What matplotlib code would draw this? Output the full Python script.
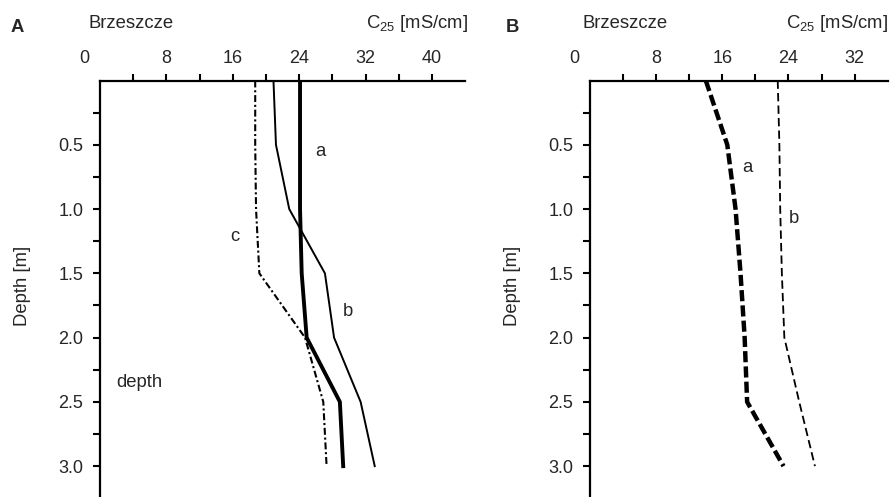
import matplotlib
matplotlib.use("Agg")
import matplotlib.pyplot as plt
import matplotlib.transforms as mtransforms

plt.rcParams['font.family'] = ['Liberation Sans', 'DejaVu Sans']
plt.rcParams['mathtext.default'] = 'regular'
plt.rcParams['lines.scale_dashes'] = False

# ---------------- data ----------------
depth_A = [0.0, 0.5, 1.0, 1.5, 2.0, 2.5, 3.0]
A_a = [24.1, 24.1, 24.1, 24.3, 24.9, 28.9, 29.3]
A_b = [20.9, 21.2, 22.8, 27.1, 28.2, 31.4, 33.1]
A_c = [18.7, 18.7, 18.8, 19.2, 24.7, 26.9, 27.3]

depth_B = [0.0, 0.5, 1.0, 1.5, 2.0, 2.5, 3.0]
B_a = [14.0, 16.6, 17.6, 18.2, 18.7, 19.0, 23.4]
B_b = [22.7, 22.9, 23.0, 23.2, 23.5, 25.3, 27.2]

x_major_A = [8, 16, 24, 32, 40]
x_minor_A = [4, 12, 20, 28, 36]
x_major_B = [8, 16, 24, 32]
x_minor_B = [4, 12, 20, 28]
y_major = [0.5, 1.0, 1.5, 2.0, 2.5, 3.0]
y_minor = [0.25, 0.75, 1.25, 1.75, 2.25, 2.75]

W, H = 892, 497
fig = plt.figure(figsize=(W / 100, H / 100), dpi=100)

TXT = '#262626'
FS_TICK = 13
FS_TXT = 13.3


def px_rect(left, top, right, bottom):
    return [left / W, 1 - bottom / H, (right - left) / W, (bottom - top) / H]


def style_axes(ax, xmax, xmaj, xmin):
    ax.set_xlim(0, xmax)
    ax.set_ylim(3.24, 0)
    for s in ['right', 'bottom']:
        ax.spines[s].set_visible(False)
    for s in ['left', 'top']:
        ax.spines[s].set_linewidth(1.6)
        ax.spines[s].set_color('black')
    ax.xaxis.set_ticks_position('top')
    ax.set_xticks(xmaj)
    ax.set_xticklabels([str(v) for v in xmaj])
    ax.set_xticks(xmin, minor=True)
    ax.set_yticks(y_major)
    ax.set_yticklabels([f"{v:.1f}" for v in y_major])
    ax.set_yticks(y_minor, minor=True)
    ax.tick_params(axis='both', which='both', direction='out', length=5,
                   width=1.5, color='black', labelcolor=TXT, labelsize=FS_TICK)
    ax.tick_params(axis='x', which='major', pad=5)
    ax.tick_params(axis='y', which='major', pad=7)
    # "0" label, drawn left of the corner as in the original
    off = mtransforms.offset_copy(ax.transData, fig=fig, x=-16, y=22, units='dots')
    ax.text(0, 0, '0', transform=off, ha='center', va='center',
            fontsize=FS_TICK, color=TXT)
    ax.set_ylabel('Depth [m]', fontsize=FS_TXT, color=TXT)


# ---------------- panel A ----------------
axA = fig.add_axes(px_rect(100, 80.5, 100 + 44 * 8.3, 497))
style_axes(axA, 44, x_major_A, x_minor_A)
axA.yaxis.set_label_coords(-69 / 365, 0.506)

axA.plot(A_a, depth_A, color='black', lw=2.8, solid_joinstyle='round')
axA.plot(A_b, depth_A, color='black', lw=1.4, solid_joinstyle='round')
axA.plot(A_c, depth_A, color='black', lw=1.5, dashes=(5, 2, 1.5, 2))

axA.text(26.6, 0.55, 'a', fontsize=FS_TXT, color=TXT, ha='center', va='center')
axA.text(29.9, 1.80, 'b', fontsize=FS_TXT, color=TXT, ha='center', va='center')
axA.text(16.3, 1.21, 'c', fontsize=FS_TXT, color=TXT, ha='center', va='center')
axA.text(2.0, 2.35, 'depth', fontsize=FS_TXT, color=TXT, ha='left', va='center')

# ---------------- panel B ----------------
axB = fig.add_axes(px_rect(590, 80.5, 590 + 36 * 8.27, 497))
style_axes(axB, 36, x_major_B, x_minor_B)
axB.yaxis.set_label_coords(-69 / 298, 0.506)

axB.plot(B_a, depth_B, color='black', lw=3.2, dashes=(8, 3))
axB.plot(B_b, depth_B, color='black', lw=1.3, dashes=(6, 3))

axB.text(19.0, 0.68, 'a', fontsize=FS_TXT, color=TXT, ha='center', va='center')
axB.text(24.6, 1.07, 'b', fontsize=FS_TXT, color=TXT, ha='center', va='center')

# ---------------- headers ----------------
def ftext(x, y, s, **kw):
    fig.text(x / W, 1 - y / H, s, color=TXT, va='center', **kw)

ftext(17, 27, 'A', fontsize=FS_TXT, fontweight='bold', ha='center')
ftext(88, 24, 'Brzeszcze', fontsize=FS_TXT, ha='left')
ftext(468, 24, 'C$_{25}$ [mS/cm]', fontsize=FS_TXT, ha='right')
ftext(512, 27, 'B', fontsize=FS_TXT, fontweight='bold', ha='center')
ftext(582, 24, 'Brzeszcze', fontsize=FS_TXT, ha='left')
ftext(888, 24, 'C$_{25}$ [mS/cm]', fontsize=FS_TXT, ha='right')

fig.savefig('out.png', dpi=100)
